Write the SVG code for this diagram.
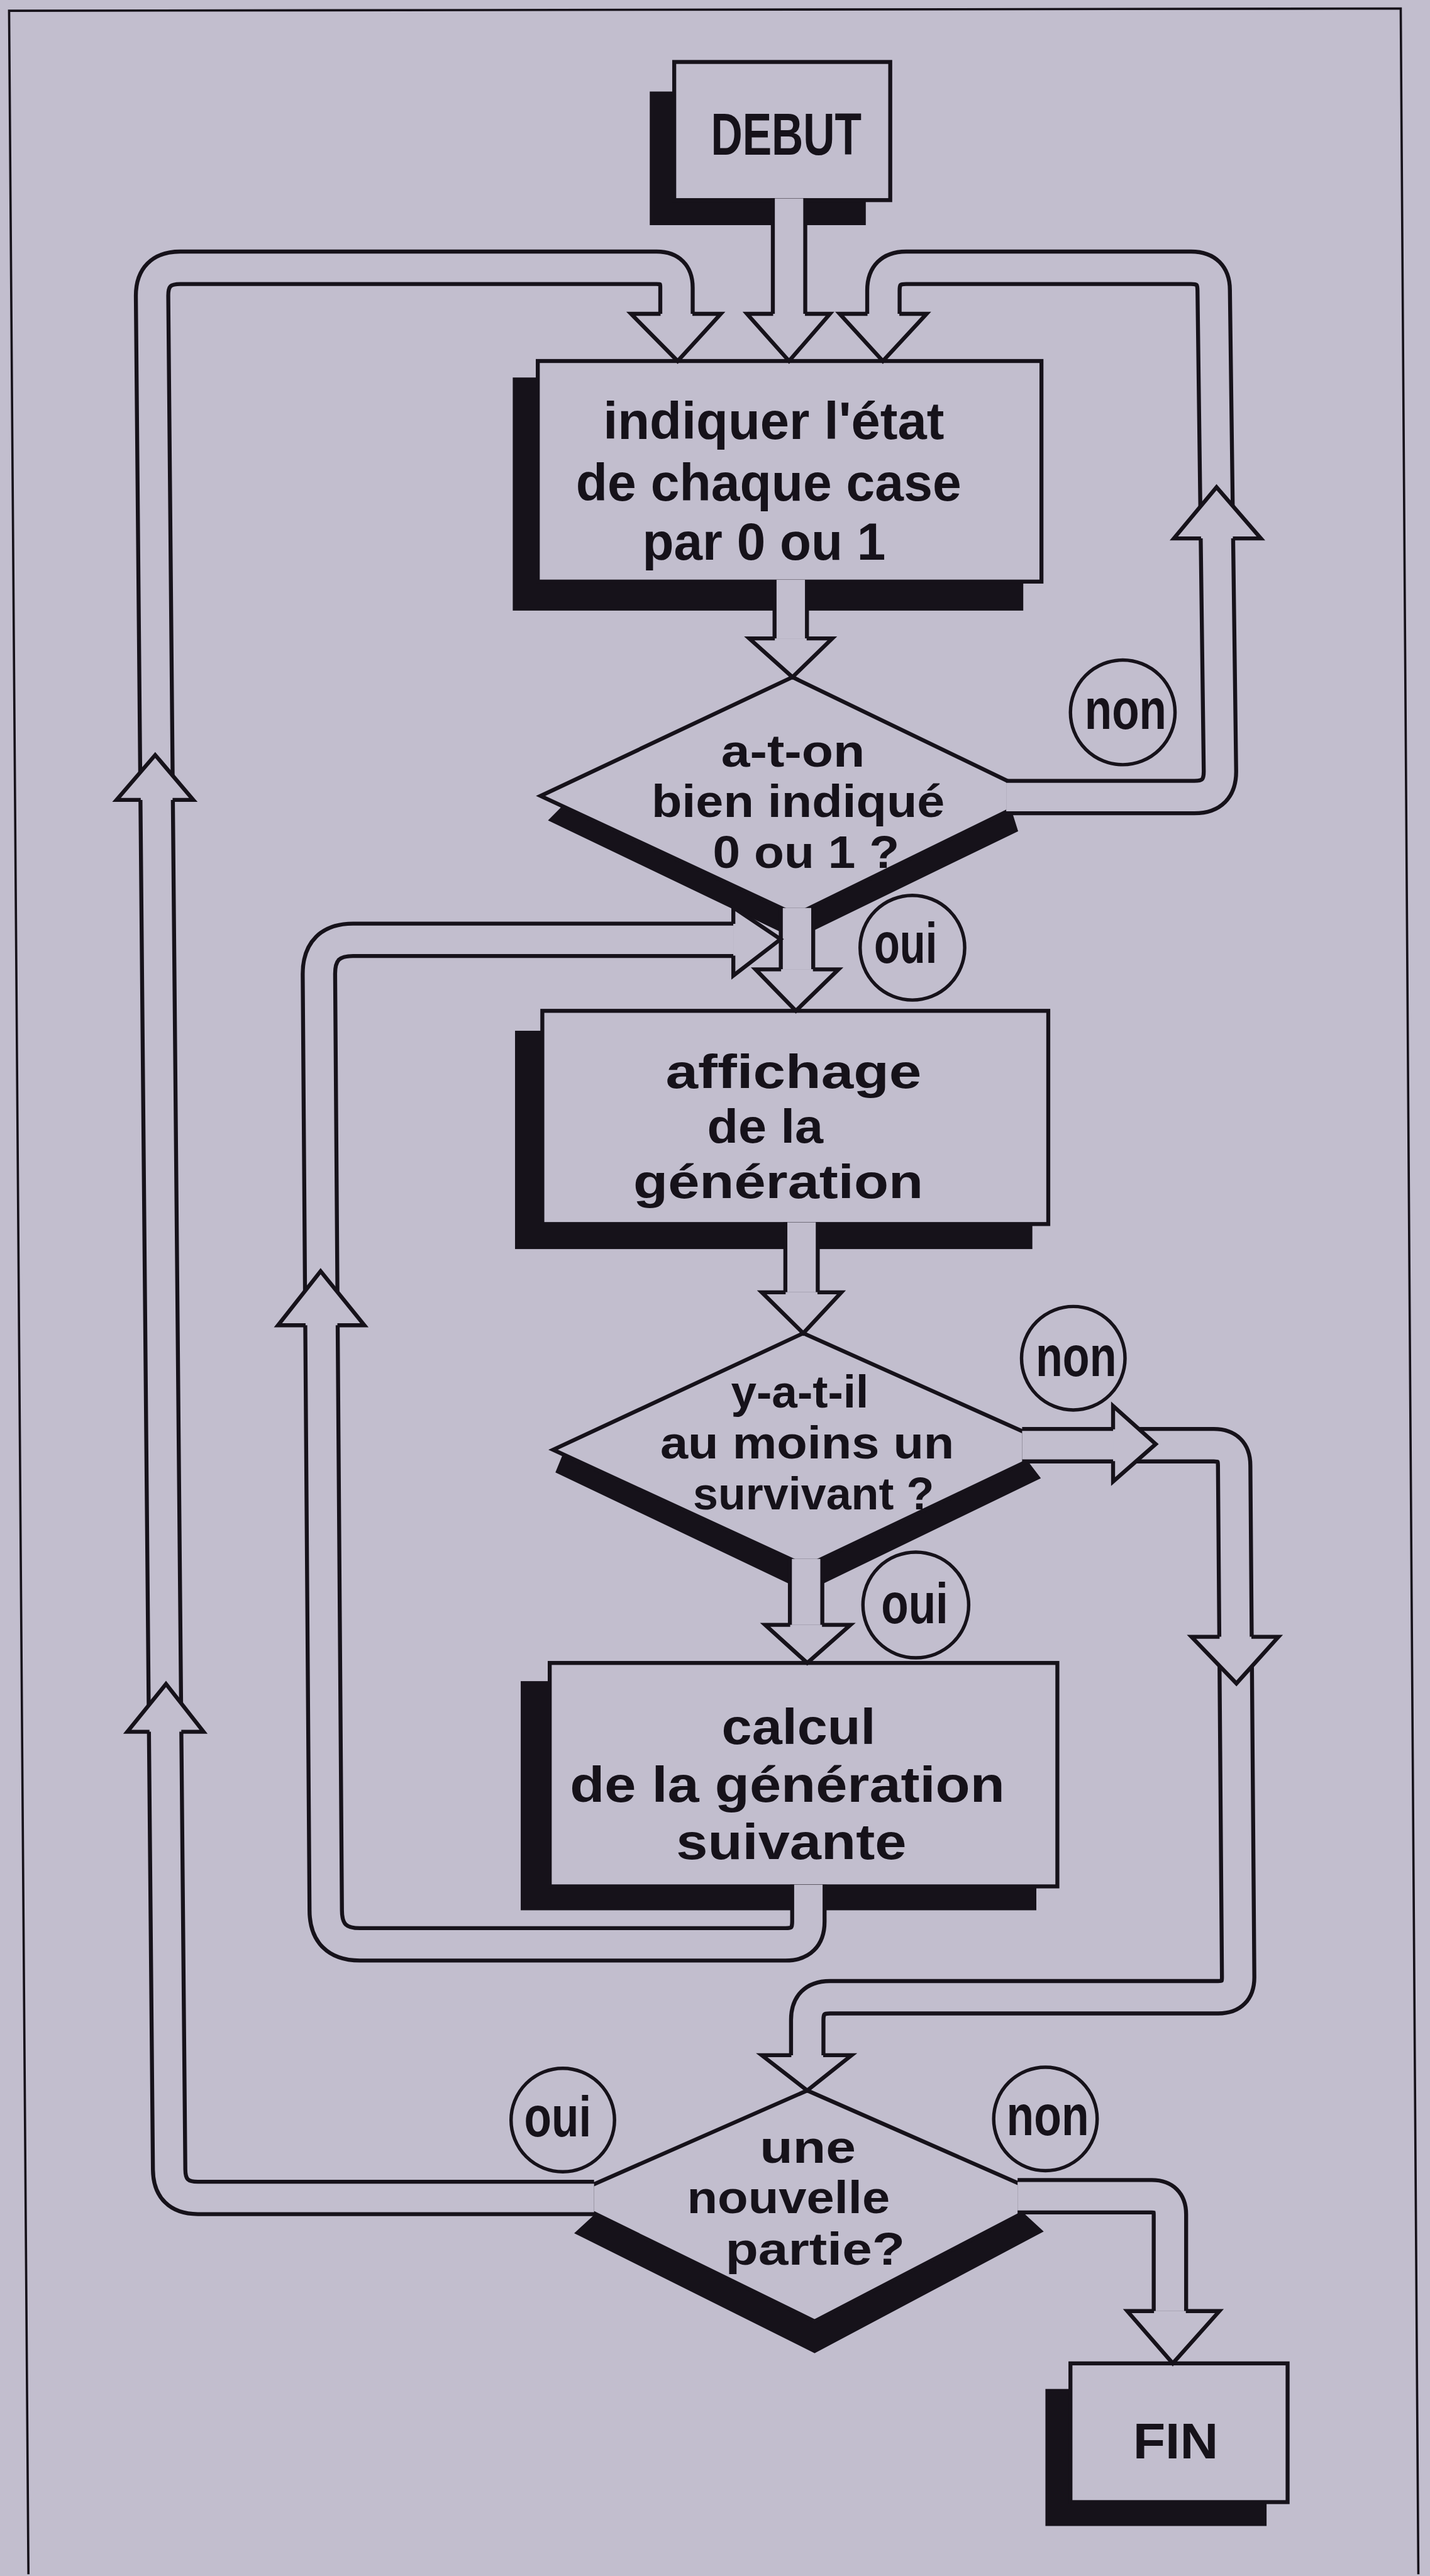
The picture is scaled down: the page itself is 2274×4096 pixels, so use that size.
<svg xmlns="http://www.w3.org/2000/svg" width="2274" height="4096" viewBox="0 0 2274 4096">
<defs>
<style>
.bg{fill:#c2bece}
.ln{fill:none;stroke:#16121a;stroke-width:4}
.sh{fill:#16121a}
.nd{fill:#c2bece;stroke:#16121a;stroke-width:7;stroke-linejoin:miter}
.bo{fill:none;stroke:#16121a;stroke-width:64}
.bi{fill:none;stroke:#c2bece;stroke-width:50}
.ah{fill:#c2bece;stroke:#16121a;stroke-width:7;stroke-linejoin:miter}
.cl{fill:#c2bece;stroke:#16121a;stroke-width:6}
.t{font-family:'Liberation Sans',Arial,sans-serif;font-weight:bold;fill:#16121a;text-anchor:middle}
.b1{font-size:93px}
.b2{font-size:85px}
.b3{font-size:89px}
.dt{font-size:79px}
.s{font-size:100px}
</style>
<path id="p_debut" d="M1388,349 L1388,552"/>
<path id="p_outer" d="M1045,3866 L348,3866 Q298,3866 297.5,3816 L267.5,521 Q267,471 317,471 L1155,471 Q1190,471 1190,506 L1190,552"/>
<path id="p_right" d="M1770,1402 L2101,1402 Q2146,1402 2146,1357 L2135,511 Q2135,471 2095,471 L1594,471 Q1554,471 1554,511 L1554,552"/>
<path id="p_b1d1" d="M1391,1020 L1391,1123"/>
<path id="p_d1b2" d="M1402,1597 L1402,1705"/>
<path id="p_inner" d="M1422,3315 L1422,3380 Q1422,3420 1382,3420 L633,3420 Q573,3420 573,3360 L561,1713 Q561,1653 621,1653 L1290,1653"/>
<path id="p_b2d2" d="M1410,2150 L1410,2273"/>
<path id="p_d2b3" d="M1418,2742 L1418,2858"/>
<path id="p_d2non" d="M1798,2542 L2135,2542 Q2171,2542 2171,2578 L2178,3478 Q2178,3513 2143,3513 L1460,3513 Q1420,3513 1420,3553 L1420,3615"/>
<path id="p_d3non" d="M1790,3863 L2026,3863 Q2058,3863 2058,3895 L2058,4065"/>
</defs>
<rect class="bg" width="2274" height="4096"/>
<g transform="scale(0.904)">
<path class="ln" d="M50,4528 L16,19 L2464,15 L2495,4528"/>

<g id="nodes">
<g id="debut">
<rect class="sh" x="1143" y="161" width="380" height="235"/>
<rect class="nd" x="1186" y="109" width="380" height="243"/>
<text class="t" x="1383" y="272" font-size="104" textLength="265" lengthAdjust="spacingAndGlyphs">DEBUT</text>
</g>
<g id="box1">
<rect class="sh" x="902" y="664" width="898" height="410"/>
<rect class="nd" x="946" y="635" width="886" height="388"/>
<text class="t b1" x="1361" y="772" textLength="600" lengthAdjust="spacingAndGlyphs">indiquer l'état</text>
<text class="t b1" x="1352" y="880" textLength="678" lengthAdjust="spacingAndGlyphs">de chaque case</text>
<text class="t b1" x="1344" y="985" textLength="428" lengthAdjust="spacingAndGlyphs">par 0 ou 1</text>
</g>
<g id="d1">
<polygon class="sh" points="989,1418 1400,1609 1779,1424 1791,1462 1400,1652 964,1443"/>
<polygon class="nd" points="1394,1191 1827,1400 1400,1609 951,1400"/>
<text class="t dt" x="1395" y="1348" textLength="253" lengthAdjust="spacingAndGlyphs">a-t-on</text>
<text class="t dt" x="1404" y="1437" textLength="516" lengthAdjust="spacingAndGlyphs">bien indiqué</text>
<text class="t dt" x="1418" y="1527" textLength="328" lengthAdjust="spacingAndGlyphs">0 ou 1 ?</text>
</g>
<g id="box2">
<rect class="sh" x="906" y="1813" width="910" height="384"/>
<rect class="nd" x="954" y="1778" width="890" height="375"/>
<text class="t b2" x="1396" y="1914" textLength="450" lengthAdjust="spacingAndGlyphs">affichage</text>
<text class="t b2" x="1346" y="2010" textLength="204" lengthAdjust="spacingAndGlyphs">de la</text>
<text class="t b2" x="1369" y="2107" textLength="510" lengthAdjust="spacingAndGlyphs">génération</text>
</g>
<g id="d2">
<polygon class="sh" points="990,2558 1418,2755 1808,2570 1831,2600 1418,2800 977,2590"/>
<polygon class="nd" points="1413,2345 1860,2545 1418,2755 973,2550"/>
<text class="t dt" x="1407" y="2476" textLength="242" lengthAdjust="spacingAndGlyphs">y-a-t-il</text>
<text class="t dt" x="1420" y="2565" textLength="517" lengthAdjust="spacingAndGlyphs">au moins un</text>
<text class="t dt" x="1431" y="2655" textLength="424" lengthAdjust="spacingAndGlyphs">survivant ?</text>
</g>
<g id="box3">
<rect class="sh" x="916" y="2957" width="907" height="403"/>
<rect class="nd" x="967" y="2925" width="893" height="393"/>
<text class="t b3" x="1405" y="3068" textLength="271" lengthAdjust="spacingAndGlyphs">calcul</text>
<text class="t b3" x="1385" y="3169" textLength="765" lengthAdjust="spacingAndGlyphs">de la génération</text>
<text class="t b3" x="1392" y="3270" textLength="405" lengthAdjust="spacingAndGlyphs">suivante</text>
</g>
<g id="d3">
<polygon class="sh" points="1047,3894 1433,4083 1800,3892 1836,3925 1433,4139 1010,3928"/>
<polygon class="nd" points="1420,3677 1850,3866 1433,4083 990,3866"/>
<text class="t dt" x="1421" y="3804" textLength="169" lengthAdjust="spacingAndGlyphs">une</text>
<text class="t dt" x="1387" y="3893" textLength="357" lengthAdjust="spacingAndGlyphs">nouvelle</text>
<text class="t dt" x="1434" y="3983" textLength="316" lengthAdjust="spacingAndGlyphs">partie?</text>
</g>
<g id="fin">
<rect class="sh" x="1839" y="4202" width="389" height="241"/>
<rect class="nd" x="1883" y="4157" width="382" height="244"/>
<text class="t" x="2068" y="4324" font-size="88" textLength="150" lengthAdjust="spacingAndGlyphs">FIN</text>
</g>
</g>

<g id="connectors">
<use href="#p_debut" class="bo"/><use href="#p_debut" class="bi"/>
<use href="#p_outer" class="bo"/><use href="#p_outer" class="bi"/>
<use href="#p_right" class="bo"/><use href="#p_right" class="bi"/>
<use href="#p_b1d1" class="bo"/><use href="#p_b1d1" class="bi"/>
<use href="#p_d1b2" class="bo"/><use href="#p_d1b2" class="bi"/>
<use href="#p_inner" class="bo"/><use href="#p_inner" class="bi"/>
<use href="#p_b2d2" class="bo"/><use href="#p_b2d2" class="bi"/>
<use href="#p_d2b3" class="bo"/><use href="#p_d2b3" class="bi"/>
<use href="#p_d2non" class="bo"/><use href="#p_d2non" class="bi"/>
<use href="#p_d3non" class="bo"/><use href="#p_d3non" class="bi"/>
<!-- terminal arrowheads -->
<path class="ah" d="M1360,552 L1314,552 L1388,635 L1460,552 L1416,552"/>
<path class="ah" d="M1162,552 L1110,552 L1192,635 L1268,552 L1218,552"/>
<path class="ah" d="M1526,552 L1477,552 L1553,635 L1630,552 L1582,552"/>
<path class="ah" d="M1363,1123 L1318,1123 L1394,1191 L1464,1123 L1419,1123"/>
<path class="ah" d="M1374,1705 L1329,1705 L1400,1778 L1475,1705 L1430,1705"/>
<path class="ah" d="M1382,2273 L1340,2273 L1413,2345 L1480,2273 L1438,2273"/>
<path class="ah" d="M1390,2858 L1346,2858 L1420,2925 L1496,2858 L1446,2858"/>
<path class="ah" d="M1392,3615 L1340,3615 L1420,3677 L1498,3615 L1448,3615"/>
<path class="ah" d="M2030,4065 L1983,4065 L2063,4157 L2145,4065 L2086,4065"/>
<path class="ah" d="M1290,1625 L1290,1596 L1373,1652 L1290,1716 L1290,1681"/>
<!-- mid-band arrowheads -->
<path class="ah" d="M262.9,3046 L224,3046 L292,2962 L358,3046 L318.9,3046"/>
<path class="ah" d="M247.6,1407 L205,1407 L273,1328 L340,1407 L303.6,1407"/>
<path class="ah" d="M537.5,2331 L489,2331 L564,2236 L641,2331 L593.5,2331"/>
<path class="ah" d="M2112.7,947 L2065,947 L2140,857 L2218,947 L2168.7,947"/>
<path class="ah" d="M1958,2514 L1958,2473 L2033,2540 L1958,2606 L1958,2570"/>
<path class="ah" d="M2145.3,2879 L2096,2879 L2175,2961 L2249,2879 L2201.3,2879"/>
</g>

<g id="labels">
<g id="lbl_d1_non"><circle class="cl" cx="1975" cy="1253" r="92"/><text class="t s" x="1980" y="1282" textLength="144" lengthAdjust="spacingAndGlyphs">non</text></g>
<g id="lbl_d1_oui"><circle class="cl" cx="1605" cy="1667" r="92"/><text class="t s" x="1593" y="1694" textLength="111" lengthAdjust="spacingAndGlyphs">oui</text></g>
<g id="lbl_d2_non"><circle class="cl" cx="1888" cy="2389" r="91"/><text class="t s" x="1893" y="2420" textLength="142" lengthAdjust="spacingAndGlyphs">non</text></g>
<g id="lbl_d2_oui"><circle class="cl" cx="1611" cy="2823" r="93"/><text class="t s" x="1609" y="2855" textLength="118" lengthAdjust="spacingAndGlyphs">oui</text></g>
<g id="lbl_d3_oui"><circle class="cl" cx="990" cy="3729" r="91"/><text class="t s" x="981" y="3758" textLength="118" lengthAdjust="spacingAndGlyphs">oui</text></g>
<g id="lbl_d3_non"><circle class="cl" cx="1839" cy="3727" r="91"/><text class="t s" x="1843" y="3756" textLength="145" lengthAdjust="spacingAndGlyphs">non</text></g>
</g>
</g>
</svg>
